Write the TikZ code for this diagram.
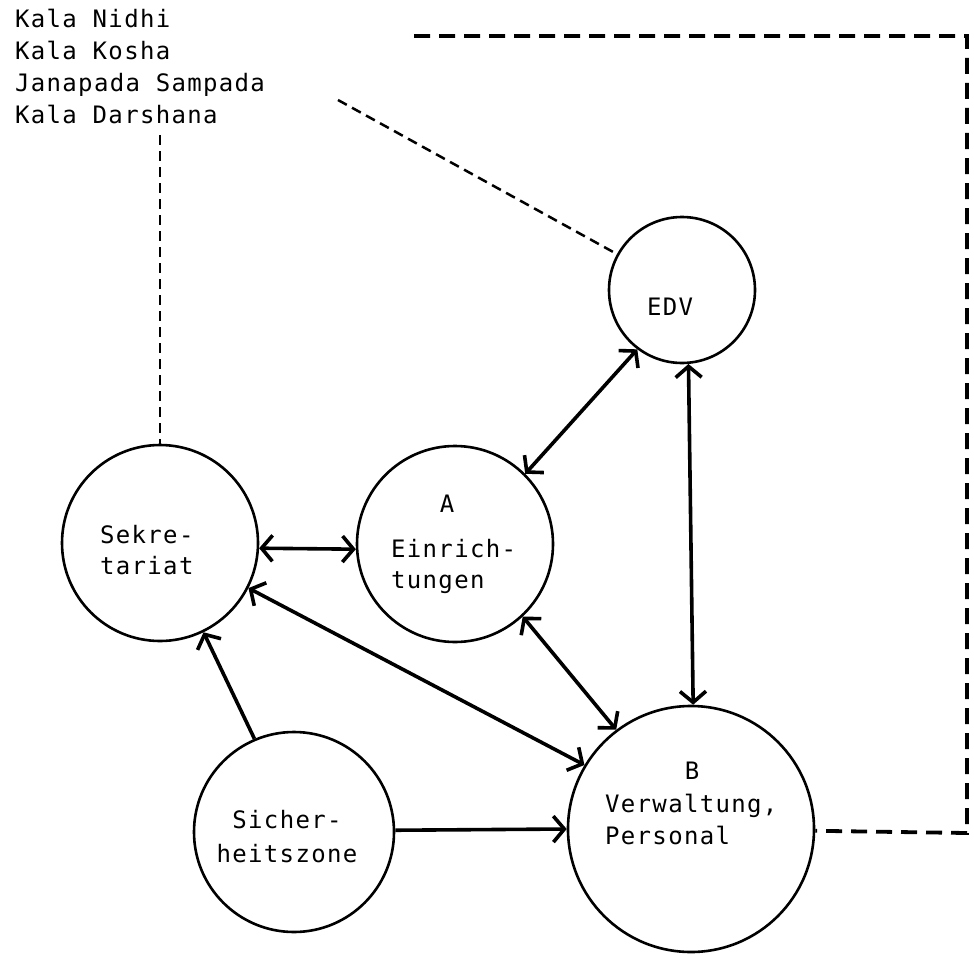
\documentclass[tikz,border=0pt]{standalone}
\usepackage{fontspec}
\newfontfamily\plotfont{DejaVu Sans Mono}[LetterSpace=5.5]
\usetikzlibrary{arrows.meta}
\tikzset{
  unit/.style={circle, draw, line width=2.6pt, inner sep=0pt},
  txt/.style={font=\plotfont\fontsize{24}{32}\selectfont, inner sep=0pt},
  link/.style={line width=3.6pt, {Straight Barb[length=11pt,width=26pt]}-{Straight Barb[length=11pt,width=26pt]}},
  oneway/.style={line width=3.6pt, -{Straight Barb[length=11pt,width=26pt]}},
  fine dash/.style={line width=2.5pt, dash pattern=on 10pt off 6pt},
  bold dash/.style={line width=3.8pt, dash pattern=on 16pt off 9pt},
}
\begin{document}
\begin{tikzpicture}[x=1pt,y=-1pt]
\useasboundingbox (0,0) rectangle (974,955);
% circles
\node[unit, minimum size=196pt] (S) at (160,543) {};
\node[unit, minimum size=196pt] (A) at (455,544) {};
\node[unit, minimum size=146pt] (EDV) at (682,290) {};
\node[unit, minimum size=246pt] (B) at (691,829) {};
\node[unit, minimum size=200pt] (Z) at (294,832) {};
% list text
\node[txt, anchor=base west] (k1) at (15,28) {Kala Nidhi};
\node[txt, anchor=base west] (k2) at (15,60) {Kala Kosha};
\node[txt, anchor=base west] (k3) at (15,92) {Janapada Sampada};
\node[txt, anchor=base west] (k4) at (15,124) {Kala Darshana};
% circle labels
\node[txt, anchor=base west] (s1) at (100,543) {Sekre-};
\node[txt, anchor=base west] (s2) at (100,574) {tariat};
\node[txt, anchor=base] (a0) at (447,512) {A};
\node[txt, anchor=base west] (a1) at (391,557) {Einrich-};
\node[txt, anchor=base west] (a2) at (391,588) {tungen};
\node[txt, anchor=base] (e0) at (670,315) {EDV};
\node[txt, anchor=base] (b0) at (692,779) {B};
\node[txt, anchor=base west] (b1) at (605,812) {Verwaltung,};
\node[txt, anchor=base west] (b2) at (605,844) {Personal};
\node[txt, anchor=base] (z1) at (287,828) {Sicher-};
\node[txt, anchor=base] (z2) at (287,862) {heitszone};
% dashed connectors
\coordinate (V) at (160,135);
\coordinate (D) at (338,100);
\coordinate (R3) at (414,36);
\coordinate (R2) at (967,36);
\coordinate (R1) at (967,833);
\draw[fine dash] (V) -- (S.north);
\draw[fine dash] (D) -- (EDV);
\draw[bold dash] (R3) -- (R2) -- (R1) -- (B);
% arrows
\draw[link] (S.-3) -- (A.183);
\draw[link] (S.-27) -- (B.149);
\draw[link] (A.-47) -- (B.127);
\draw[link] (A.45) -- (EDV.233);
\draw[link] (EDV.275) -- (B.89);
\draw[oneway] (Z.113) -- (S.-64);
\draw[oneway] (Z.1) -- (B.180);
\end{tikzpicture}
\end{document}
